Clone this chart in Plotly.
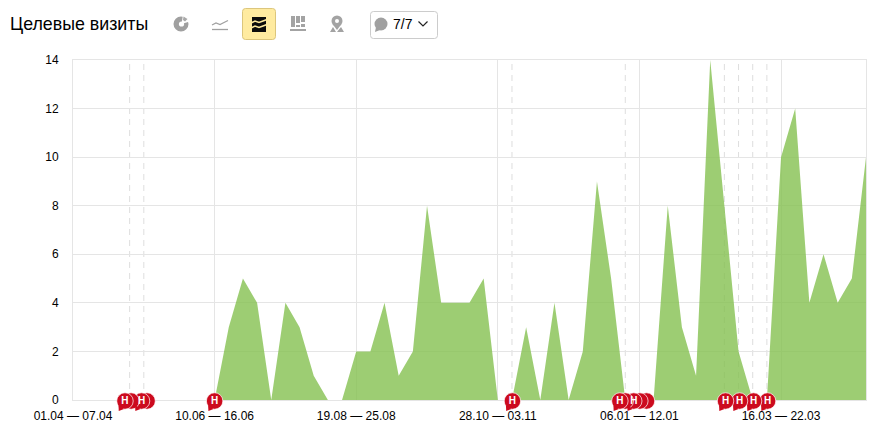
import plotly.graph_objects as go

title = "Целевые визиты"
weeks = list(range(57))
visits = [0,0,0,0,0,0,0,0,0,0,0,3,5,4,0,4,3,1,0,0,2,2,4,1,2,8,4,4,4,5,0,0,3,0,4,0,2,9,5,0,0,0,8,3,1,14,8,2,0,0,10,12,4,6,4,5,10]
tick_weeks = [0,10,20,30,40,50]
tick_labels = ["01.04 — 07.04","10.06 — 16.06","19.08 — 25.08","28.10 — 03.11","06.01 — 12.01","16.03 — 22.03"]
y_ticks = [0,2,4,6,8,10,12,14]
dashed_weeks = [4,5,31,39,46,47,48,49]
note_weeks = [3.67,4.1,4.84,5.23,10,31.03,38.62,39,39.6,40.03,40.5,46.08,47.07,48.06,49.05]
note_labels = ["Н","","Н","","Н","Н","Н","","Н","","","Н","Н","Н","Н"]
counter = "7/7"

W, H = 884, 440
L, R, T, B = 73, 866, 60, 400
BP = 420  # bottom of the outer (notes) plot area
px_week = (R - L) / 56
px_val = (B - T) / 14
RED = "#cc0a1e"

def X(p): return (p - L) / (R - L)
def Y(p): return (BP - p) / (BP - T)
def path(pts, close=True):
    s = "M" + " L".join(f"{X(x):.5f},{Y(y):.5f}" for x, y in pts)
    return s + (" Z" if close else "")
def poly(pts, color):
    return dict(type="path", xref="paper", yref="paper", path=path(pts), fillcolor=color, line=dict(width=0), layer="above")
def stroke(pts, color, w=1):
    return dict(type="path", xref="paper", yref="paper", path=path(pts, False), line=dict(color=color, width=w), layer="above")
def circ(cx, cy, r, color):
    return dict(type="circle", xref="paper", yref="paper", x0=X(cx-r), x1=X(cx+r), y0=Y(cy+r), y1=Y(cy-r),
                fillcolor=color, line=dict(width=0), layer="above")
def rrect(x0, y0, x1, y1, r, fill, border):
    pts = f"M{X(x0+r):.5f},{Y(y0):.5f} L{X(x1-r):.5f},{Y(y0):.5f} Q{X(x1):.5f},{Y(y0):.5f} {X(x1):.5f},{Y(y0+r):.5f} " \
          f"L{X(x1):.5f},{Y(y1-r):.5f} Q{X(x1):.5f},{Y(y1):.5f} {X(x1-r):.5f},{Y(y1):.5f} " \
          f"L{X(x0+r):.5f},{Y(y1):.5f} Q{X(x0):.5f},{Y(y1):.5f} {X(x0):.5f},{Y(y1-r):.5f} " \
          f"L{X(x0):.5f},{Y(y0+r):.5f} Q{X(x0):.5f},{Y(y0):.5f} {X(x0+r):.5f},{Y(y0):.5f} Z"
    return dict(type="path", xref="paper", yref="paper", path=pts, fillcolor=fill, line=dict(color=border, width=1), layer="above")

GRAY = "#a3a3a3"
YEL = "#ffeba0"
shapes = []
for w in dashed_weeks:
    shapes.append(dict(type="line", xref="x", yref="y", x0=w, x1=w, y0=0, y1=14,
                       line=dict(color="#dedede", width=1, dash="6px,5px"), layer="below"))
# comment-pin tails, anchored to each visible note through the axes
for w, lab in zip(note_weeks, note_labels):
    if lab:
        tail = [(-6.5, 4), (-1, 8), (-6.2, 10)]
        d = "M" + " L".join(f"{w + dx / px_week:.4f},{-(1 + dy) / px_val:.4f}" for dx, dy in tail) + " Z"
        shapes.append(dict(type="path", xref="x", yref="y2", path=d, fillcolor=RED, line=dict(width=0), layer="above"))
# pie icon
shapes += [circ(181, 24, 7.5, "#a0a0a0"), circ(181.5, 24, 2.6, "white"),
           poly([(181.5, 24), (183, 15), (191, 17), (188, 22)], "white"),
           poly([(183.5, 16.5), (187.5, 19), (185, 21.5), (183, 20)], "#a8a8a8")]
# line icon
shapes += [stroke([(212, 25), (216, 23), (220, 24.5), (224, 22.5), (228, 20.5)], "#a0a0a0", 1.3),
           stroke([(212, 29.5), (228, 29.5)], "#a0a0a0", 1.3)]
# active button
shapes += [rrect(242.5, 8.5, 275.5, 39.5, 3, YEL, "#dcc67c"),
           poly([(252, 17), (266, 17), (266, 32), (252, 32)], "#0c0c0c"),
           stroke([(251, 23), (255, 21), (259, 22.5), (263, 21), (267, 19.5)], YEL, 1.6),
           stroke([(251, 28), (255, 26), (259, 27.5), (263, 26), (267, 24.5)], YEL, 1.6)]
# columns icon
for x0, x1, y0, y1 in [(291, 295, 16, 27), (296, 300, 16, 23), (296, 300, 25, 27), (301, 305, 16, 22), (301, 305, 24, 27)]:
    shapes.append(poly([(x0, y0), (x1, y0), (x1, y1), (x0, y1)], GRAY))
shapes.append(poly([(290, 29), (306, 29), (306, 31), (290, 31)], GRAY))
# pin icon
shapes += [circ(337, 21, 5.5, GRAY), circ(337, 21, 2, "white"),
           poly([(332.5, 24), (341.5, 24), (337, 30)], GRAY),
           poly([(330, 32), (333, 27), (336, 32)], GRAY),
           poly([(337, 32), (341, 27), (344, 32)], GRAY)]
# comment filter button
shapes += [rrect(370.5, 11.5, 437.5, 38.5, 3, "white", "#cccccc"),
           circ(381, 24, 6.5, "#a0a0a0"),
           poly([(376, 27), (380, 30), (375, 32)], "#a0a0a0"),
           stroke([(418.5, 21.5), (423, 26), (427.5, 21.5)], "#222222", 1.2)]

fig = go.Figure()
fig.add_trace(go.Scatter(x=weeks, y=visits, mode="lines", fill="tozeroy",
                         line=dict(width=0, color="rgba(132,193,80,0)"),
                         fillcolor="rgba(132,193,80,0.8)", hoverinfo="skip", showlegend=False))
# right-most notes first, so the left ones sit on top
order = list(reversed(note_weeks))
order_labels = list(reversed(note_labels))
fig.add_trace(go.Scatter(x=order, y=[-1 / px_val] * len(order), mode="markers+text", xaxis="x2", yaxis="y2",
                         text=order_labels, textposition="middle center",
                         textfont=dict(family="Liberation Sans", size=10, color="white", weight="bold"),
                         marker=dict(symbol="circle", size=16.5, color=RED, line=dict(width=0.7, color="white")),
                         cliponaxis=False, hoverinfo="skip", showlegend=False))

fig.update_layout(
    width=W, height=H, margin=dict(l=L, r=W - R, t=T, b=H - BP, pad=0),
    paper_bgcolor="white", plot_bgcolor="rgba(0,0,0,0)", showlegend=False,
    font=dict(family="Liberation Sans, Arial, sans-serif", size=12, color="#000"),
    xaxis=dict(range=[0, 56], tickmode="array", tickvals=tick_weeks, ticktext=tick_labels, tickangle=0,
               showgrid=True, gridcolor="#e5e5e5", gridwidth=1, zeroline=False, showline=True, linecolor="#e5e5e5",
               mirror=True, ticks="", ticklabelstandoff=5, anchor="y"),
    yaxis=dict(domain=[Y(B), 1], range=[0, 14], tickmode="array", tickvals=y_ticks, ticktext=[str(v) for v in y_ticks],
               showgrid=True, gridcolor="#e5e5e5", gridwidth=1, zeroline=False, showline=True, linecolor="#e5e5e5",
               mirror=True, ticks="", ticklabelstandoff=11, anchor="x"),
    xaxis2=dict(domain=[0, 1], range=[0, 56], visible=False, anchor="y2"),
    yaxis2=dict(domain=[0, 1], range=[-(BP - B) / px_val, 14], visible=False, anchor="x2"),
    shapes=shapes,
    annotations=[
        dict(text=title, xref="paper", yref="paper", x=X(8), y=Y(24), xanchor="left", yanchor="middle",
             showarrow=False, font=dict(size=17.8, color="#000")),
        dict(text=counter, xref="paper", yref="paper", x=X(403), y=Y(24.5), xanchor="center", yanchor="middle",
             showarrow=False, font=dict(size=14, color="#000")),
    ],
)
fig.write_html("out.html", config=dict(displayModeBar=False),
               post_script="document.body.style.margin='0';document.body.style.overflow='hidden';")
